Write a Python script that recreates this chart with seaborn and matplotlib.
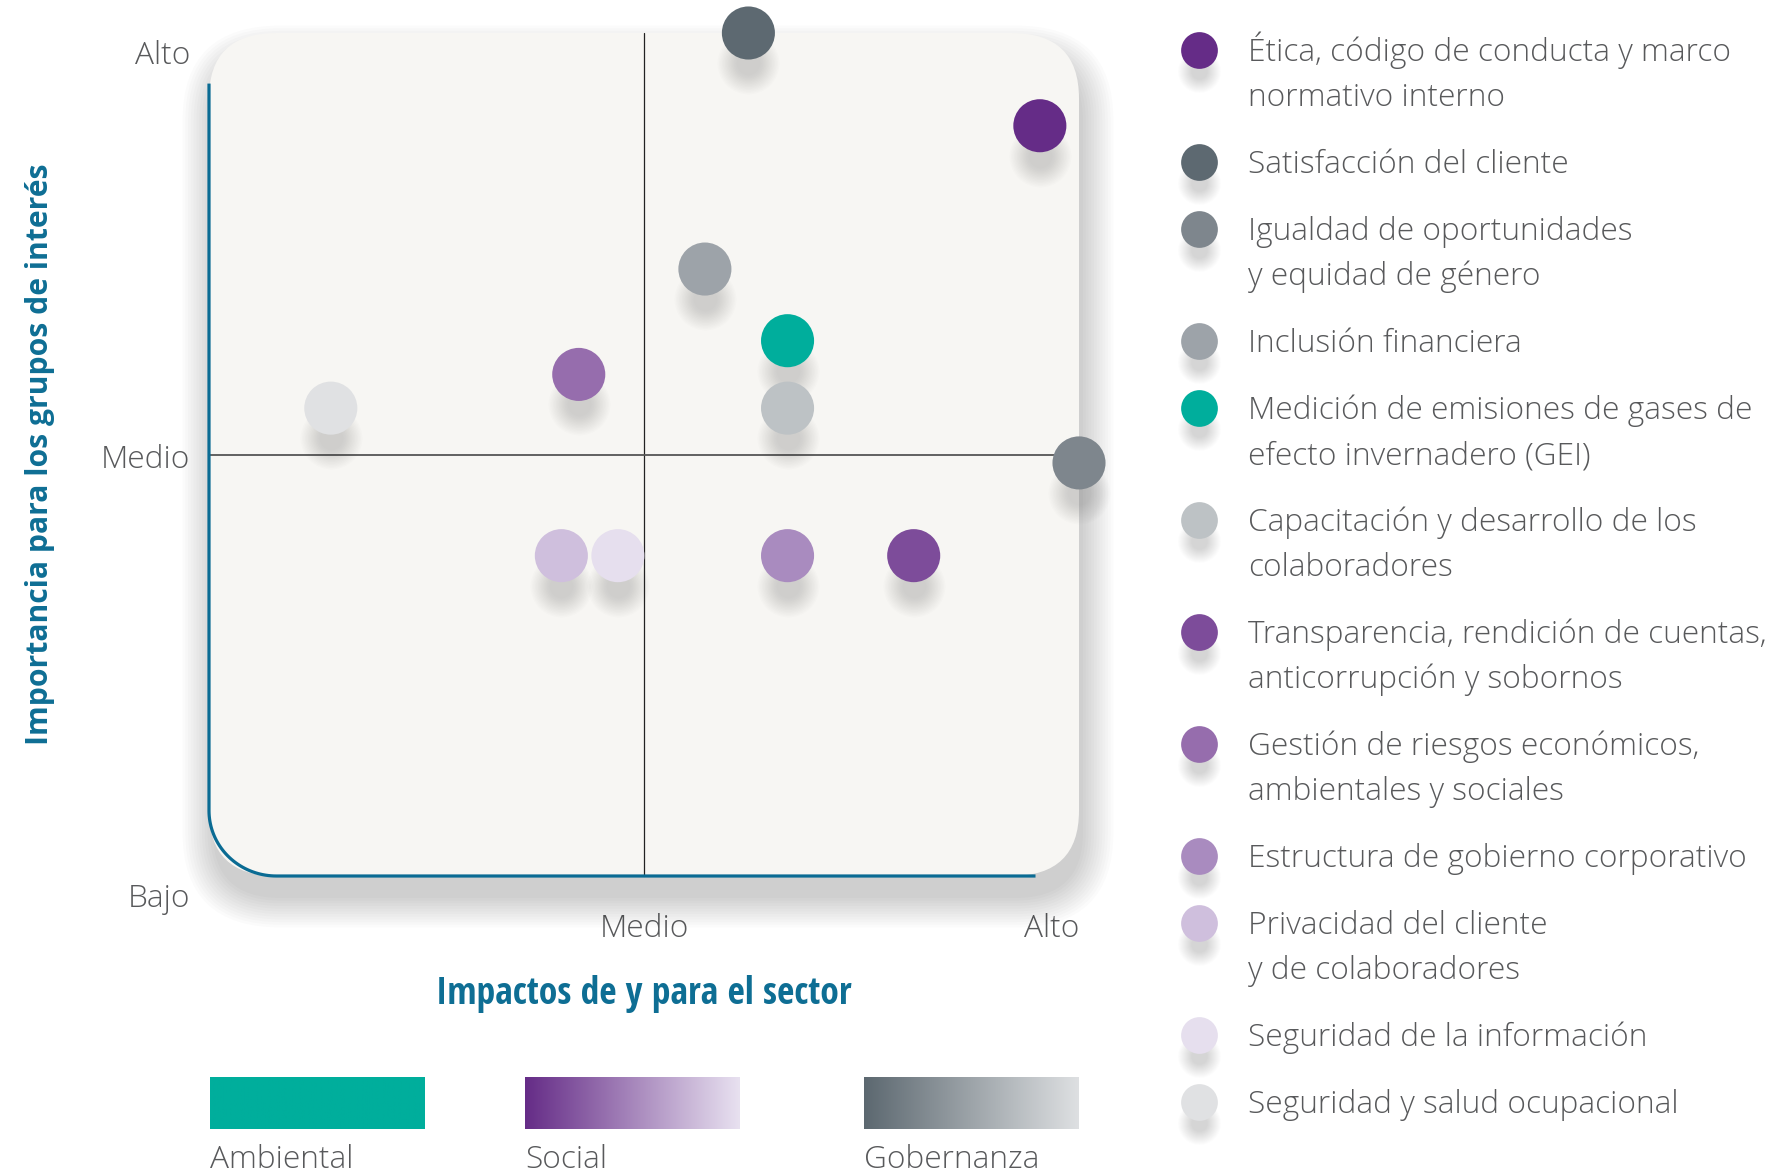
import numpy as np
import pandas as pd
import seaborn as sns
import matplotlib.pyplot as plt
from matplotlib.patches import FancyBboxPatch
from matplotlib.colors import LinearSegmentedColormap
from matplotlib.transforms import offset_copy

# Temas materiales y su posicion en la matriz (0 = Bajo, 1 = Medio, 2 = Alto)
temas = [
    "Ética, código de conducta y marco\nnormativo interno",
    "Satisfacción del cliente",
    "Igualdad de oportunidades\ny equidad de género",
    "Inclusión financiera",
    "Medición de emisiones de gases de\nefecto invernadero (GEI)",
    "Capacitación y desarrollo de los\ncolaboradores",
    "Transparencia, rendición de cuentas,\nanticorrupción y sobornos",
    "Gestión de riesgos económicos,\nambientales y sociales",
    "Estructura de gobierno corporativo",
    "Privacidad del cliente\ny de colaboradores",
    "Seguridad de la información",
    "Seguridad y salud ocupacional",
]
impacto = [1.91, 1.24, 2.00, 1.14, 1.33, 1.33, 1.62, 0.85, 1.33, 0.81, 0.94, 0.28]
importancia = [1.78, 2.00, 0.98, 1.44, 1.27, 1.11, 0.76, 1.19, 0.76, 0.76, 0.76, 1.11]
colores = ["#652C87", "#5D6971", "#7E868D", "#9DA3A9", "#00AE9C", "#BDC2C5",
           "#7D4C9A", "#966DAD", "#A98BBF", "#CFBFDD", "#E6DFEE", "#E0E1E3"]

niveles = ["Bajo", "Medio", "Alto"]
grupos = ["Ambiental", "Social", "Gobernanza"]
grupo_colores = [("#00AE9C", "#00AE9C"), ("#652C87", "#E8E1F0"), ("#5C6870", "#DEE0E2")]

df = pd.DataFrame({"tema": temas, "impacto": impacto, "importancia": importancia})
palette = dict(zip(temas, colores))

sns.set_theme(style="white")
gris = "#58595B"
azul = "#0E6E94"
light = dict(family="Open Sans", weight=300, color=gris)
fs = 22.8

W, H = 1790, 1174
fig = plt.figure(figsize=(W / 100, H / 100), dpi=100)
fig.patch.set_facecolor("white")

# capa de fondo en pixeles para textos y leyenda
bg = fig.add_axes([0, 0, 1, 1], zorder=0)
bg.axis("off")

# matriz
ax = fig.add_axes([209 / W, 1 - 876 / H, 870 / W, 843 / H], zorder=1)
ax.set_xlim(0, 2)
ax.set_ylim(0, 2)
ax.axis("off")

r = 0.155
# sombra de la caja
for p in np.linspace(0.0, 0.07, 12):
    sh = FancyBboxPatch((0, 0), 2, 2, boxstyle=f"round,pad={p},rounding_size={r + p}",
                        fc="black", ec="none", alpha=0.014, zorder=0, clip_on=False,
                        transform=offset_copy(ax.transData, fig, x=4, y=-22, units="dots"))
    ax.add_patch(sh)
ax.add_patch(FancyBboxPatch((0, 0), 2, 2, boxstyle=f"round,pad=0,rounding_size={r}",
                            fc="#F7F6F3", ec="none", zorder=1, clip_on=False))

# lineas centrales
ax.plot([1, 1], [0, 2], color="#222222", lw=0.9, zorder=2, clip_on=False)
ax.plot([0, 2], [1, 1], color="#555555", lw=1.3, zorder=2, clip_on=False)

# ejes azules (izquierda y abajo, siguiendo la esquina redondeada)
t = np.linspace(np.pi, 1.5 * np.pi, 40)
xs = np.r_[0, r + r * np.cos(t), 1.90]
ys = np.r_[1.88, r + r * np.sin(t), 0]
ax.plot(xs, ys, color="#0A6B93", lw=2.3, zorder=3, clip_on=False, solid_capstyle="butt")

# sombras difusas de los puntos
for k in range(14):
    esc = 0.45 + 0.055 * k
    ax.scatter(df["impacto"], df["importancia"], s=1460 * esc ** 2, color="#555555",
               alpha=0.015, lw=0, zorder=3, clip_on=False,
               transform=offset_copy(ax.transData, fig, x=0, y=-30, units="dots"))

sns.scatterplot(data=df, x="impacto", y="importancia", hue="tema", palette=palette,
                s=1460, linewidth=0, legend=False, ax=ax, zorder=4, clip_on=False)

# etiquetas de los ejes
for txt, yb in zip(niveles, [907, 468, 64]):
    bg.text(190, yb, txt, ha="right", va="baseline", fontsize=fs, **light)
bg.text(644, 937, niveles[1], ha="center", va="baseline", fontsize=fs, **light)
bg.text(1079, 937, niveles[2], ha="right", va="baseline", fontsize=fs, **light)

bg.text(40, 454, "Importancia para los grupos de interés", rotation=90, ha="center",
        va="center", fontsize=21.7, family="Open Sans", weight="bold", color=azul)
bg.text(644, 1004, "Impactos de y para el sector", ha="center", va="baseline",
        fontsize=27, family="Open Sans Condensed", weight="bold", color=azul)

# leyenda de temas
y = 50
for tema, col in zip(temas, colores):
    for k in range(14):
        esc = 0.45 + 0.055 * k
        bg.scatter([1199], [y + 21], s=700 * esc ** 2, color="#555555", alpha=0.015, lw=0, zorder=1)
    bg.scatter([1199], [y], s=700, color=col, lw=0, zorder=2)
    lineas = tema.split("\n")
    for j, linea in enumerate(lineas):
        bg.text(1248, y + 11 + 45 * j, linea, ha="left", va="baseline", fontsize=fs, **light)
    y += 67 if len(lineas) == 1 else 112

# barras de grupos
for nombre, (c0, c1), x0 in zip(grupos, grupo_colores, [210, 525, 864]):
    cmap = LinearSegmentedColormap.from_list(nombre, [c0, c1])
    bg.imshow(np.linspace(0, 1, 256)[None, :], cmap=cmap, aspect="auto",
              extent=(x0, x0 + 215, 1129, 1077), zorder=1)
    bg.text(x0, 1168, nombre, ha="left", va="baseline", fontsize=fs, **light)

bg.set_xlim(0, W)
bg.set_ylim(H, 0)

plt.savefig("out.png", dpi=100)
